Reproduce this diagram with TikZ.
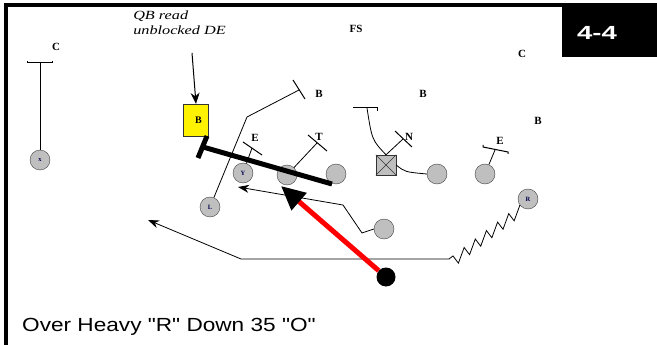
\documentclass[tikz,border=0pt]{standalone}
\usepackage{fontspec}
\setmainfont{Liberation Serif}
\newfontfamily\arialfont{Liberation Sans}
\usetikzlibrary{arrows.meta,decorations.pathmorphing}

\begin{document}
\begin{tikzpicture}[x=1pt,y=-1pt,
  player/.style={circle,draw=black!75,fill=black!25,minimum size=20pt,inner sep=0pt,
                 text=blue!30!black,font=\fontsize{6.5}{6.5}\selectfont\bfseries},
  defender/.style={font=\fontsize{11}{11}\selectfont\bfseries,inner sep=0pt},
  route/.style={line width=0.8pt},
  routearrow/.style={route,-{Stealth[length=11pt,width=8pt]}},
  lbbar/.style={line width=1pt}]
\useasboundingbox (0,0) rectangle (657,345);
\fill[white] (0,0) rectangle (657,345);

% ---------------- frame and play number ----------------
\draw[line width=4pt] (5.5,345) -- (5.5,5) -- (657,5);
\fill[black] (562,3) rectangle (657,57);
\node[white,font=\arialfont\fontsize{19}{19}\selectfont\bfseries,xscale=1.45] (num) at (597,33) {4-4};

% ---------------- offense ----------------
\node[player] (X) at (40,160) {x};
\node[player] (Y) at (243,173) {Y};
\node[player] (L) at (210,207) {L};
\node[player] (R) at (528,199) {R};
\node[player] (lt) at (287,175) {};
\node[player] (lg) at (336,174) {};
\node[draw=black!80,fill=black!25,minimum size=20pt,inner sep=0pt] (ctr) at (386,165) {};
\draw[black!80] (ctr.north west) -- (ctr.south east) (ctr.north east) -- (ctr.south west);
\node[player] (rg) at (437,174) {};
\node[player] (rt) at (485,174) {};
\node[player] (hb) at (384,229) {};
\node[circle,fill=black,minimum size=19pt,inner sep=0pt] (QB) at (386,277) {};

% ---------------- defense ----------------
\node[defender] (cl) at (56,47) {C};
\node[defender] (fs) at (356,29) {FS};
\node[defender] (cr) at (522,54) {C};
\node[defender] (bl) at (319,94) {B};
\node[defender] (bm) at (423,94) {B};
\node[defender] (br) at (538,121) {B};
\node[defender] (el) at (255,138) {E};
\node[defender] (tk) at (319,137) {T};
\node[defender] (ng) at (409,137) {N};
\node[defender] (er) at (500,141) {E};
\node[draw=black!80,fill=yellow,minimum width=25pt,minimum height=32pt,inner sep=0pt,
      font=\fontsize{10}{10}\selectfont\bfseries] (DE) at (196,120) {\hspace*{5pt}B};

% ---------------- QB read note ----------------
\node[anchor=north west,align=left,inner sep=0pt,xscale=1.3,
      font=\fontsize{12.5}{15}\selectfont\itshape] (read) at (133,11) {QB read\\unblocked DE};
\coordinate (readtop) at (192,53);
\draw[line width=1pt,-{Stealth[length=11pt,width=9pt]}] (readtop) -- (DE.north);

% ---------------- routes and assignments ----------------
\draw[lbbar] (27,61) -- (27,63) -- (52,63) -- (52,61);
\draw[route] (X) -- (40,63);

\draw[route] (L) -- (247,117) -- (299,90);
\draw[lbbar] (293,80) -- (305,99);

\draw[lbbar] (243,142) -- (262,155);
\draw[route] (Y) -- (252,148);

\draw[lbbar] (308,135) -- (327,151);
\draw[route] (lt) -- (317,143);

\draw[lbbar] (395,131) -- (412,147);
\draw[route] (ctr.north) -- (403,139);
\draw[lbbar] (353,108) -- (377,108) -- (377,111);
\draw[route] (ctr.north) .. controls (372,140) .. (367,108);
\draw[route] (ctr.east) .. controls (405,172) .. (rg.west);

\draw[lbbar] (483,145) -- (483,147) -- (508,152) -- (508,154);
\draw[route] (rt) -- (495,150);

\draw[routearrow] (hb.west) -- (362,233) -- (343,205) -- (238,187);

\coordinate (zig) at (449,259);
\coordinate (turn) at (241,259);
\coordinate (rtip) at (148,220);
\draw[route,decorate,decoration={saw,segment length=14pt,amplitude=9pt}] (R) -- (zig);
\draw[routearrow] (zig) -- (turn) -- (rtip);

% ---------------- blocks ----------------
\coordinate (blk) at (203,147);
\draw[line width=5pt] (blk) -- (332,184);
\draw[line width=5pt] (207,136) -- (198,158);

\coordinate (qbtip) at (281,186);
\draw[red,line width=5pt,-{Triangle[length=24pt,width=22pt,color=black]}] (QB) -- (qbtip);

% ---------------- title ----------------
\node[anchor=base west,inner sep=0pt,xscale=1.19,font=\arialfont\fontsize{19}{19}\selectfont] (title)
     at (22,331) {Over Heavy "R" Down 35 "O"};
\end{tikzpicture}
\end{document}
